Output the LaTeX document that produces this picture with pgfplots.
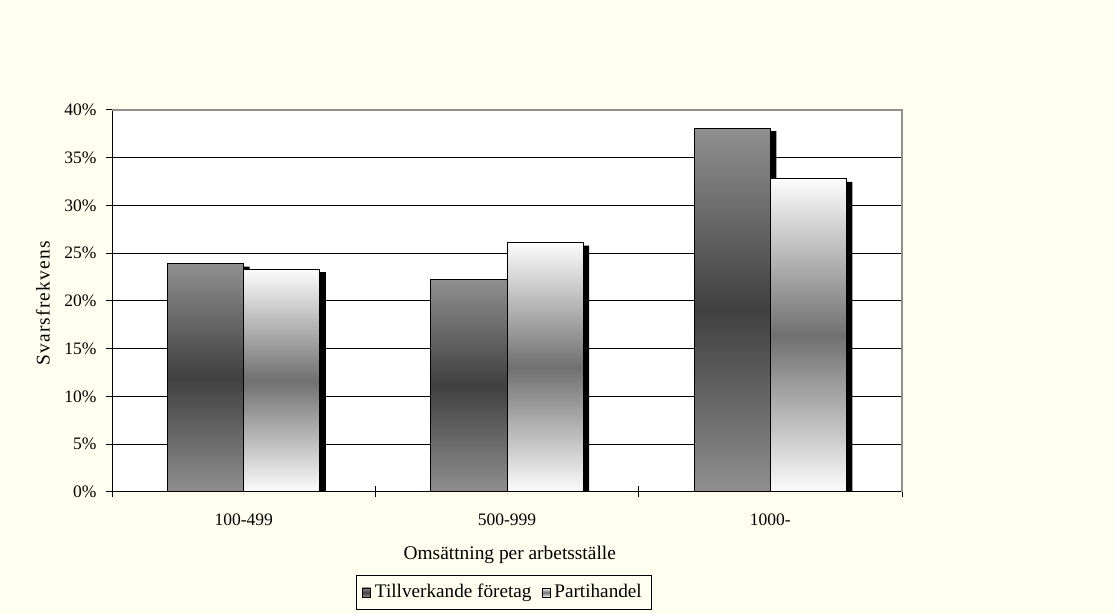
\documentclass[border=0pt]{standalone}
\usepackage{pgfplots}
\pgfplotsset{compat=1.18}
\usepackage{fontspec}
\setmainfont{Liberation Serif}
\definecolor{bg}{HTML}{FFFFF0}
\definecolor{g1}{HTML}{8F8F8F}
\definecolor{g1d}{HTML}{404040}
\definecolor{g2}{HTML}{FCFCFC}
\definecolor{g2d}{HTML}{707070}
\definecolor{bord}{HTML}{909090}
\tikzset{
 s1/.style={draw=black, line width=0.5pt, top color=g1, bottom color=g1, middle color=g1d},
 s2/.style={draw=black, line width=0.5pt, top color=g2, bottom color=g2, middle color=g2d},
 shad/.style={fill=black, draw=none, xshift=3pt, yshift=-1.5pt}
}
\begin{document}
\begin{tikzpicture}
\fill[bg] (0,0) rectangle (557pt,307pt);
\begin{axis}[
 name=ax,
 at={(56pt,61pt)}, anchor=south west, scale only axis, width=395pt, height=191pt,
 xmin=-0.5, xmax=2.5, ymin=0, ymax=40,
 axis line style={black, line width=0.5pt},
 axis background/.style={fill=white},
 tick pos=left, tick align=center,
 major tick length=5.5pt, minor tick length=5.5pt,
 xtick={0,1,2}, xticklabels={100-499,500-999,1000-},
 minor xtick={-0.5,0.5,1.5,2.5},
 major x tick style={draw=none},
 minor x tick style={black, line width=0.5pt},
 ytick={0,5,...,40},
 yticklabels={0\%,5\%,10\%,15\%,20\%,25\%,30\%,35\%,40\%},
 major y tick style={black, line width=0.5pt},
 ymajorgrids, grid style={black, line width=0.5pt},
 ticklabel style={font=\fontsize{8.75}{10}\selectfont},
 xticklabel style={yshift=-4.8pt},
 yticklabel style={xshift=-1.5pt},
 xlabel={Omsättning per arbetsställe},
 ylabel={Svarsfrekvens},
 xlabel style={font=\fontsize{9.7}{11}\selectfont, at={(axis description cs:0.5035,-0.165)}, anchor=center},
 ylabel style={font=\fontsize{9.7}{11}\selectfont\addfontfeature{LetterSpace=6}, at={(axis description cs:-0.0874,0.494)}, anchor=center},
 legend style={at={(axis description cs:0.4962,-0.2631)}, anchor=center,
   legend columns=2, draw=black, fill=bg, line width=0.5pt,
   font=\fontsize{9.6}{11}\selectfont, inner xsep=3pt, inner ysep=2.5pt,
   /tikz/every even column/.append style={column sep=3pt}},
]
% shadows series 1
\addplot[ybar, bar width=0.289, bar shift=-0.1445, shad, forget plot]
 coordinates {(0,23.9) (1,22.3) (2,38.1)};
% series 1 bars
\addplot[ybar, bar width=0.289, bar shift=-0.1445, s1, forget plot] coordinates {(0,23.9)};
\addplot[ybar, bar width=0.289, bar shift=-0.1445, s1, forget plot] coordinates {(1,22.3)};
\addplot[ybar, bar width=0.289, bar shift=-0.1445, s1, forget plot] coordinates {(2,38.1)};
% shadows series 2
\addplot[ybar, bar width=0.289, bar shift=0.1445, shad, forget plot]
 coordinates {(0,23.35) (1,26.1) (2,32.8)};
% series 2 bars
\addplot[ybar, bar width=0.289, bar shift=0.1445, s2, forget plot] coordinates {(0,23.35)};
\addplot[ybar, bar width=0.289, bar shift=0.1445, s2, forget plot] coordinates {(1,26.1)};
\addplot[ybar, bar width=0.289, bar shift=0.1445, s2, forget plot] coordinates {(2,32.8)};
\addlegendimage{legend image code/.code={\draw[s1, line width=0.4pt] (0pt,-2.3pt) rectangle (4pt,2.3pt);}}
\addlegendentry{Tillverkande företag}
\addlegendimage{legend image code/.code={\draw[s2, line width=0.4pt] (0pt,-2.3pt) rectangle (4pt,2.3pt);}}
\addlegendentry{Partihandel}
\end{axis}
\draw[bord, line width=0.6pt] (ax.north west) -- (ax.north east) -- (ax.south east);
\end{tikzpicture}
\end{document}
